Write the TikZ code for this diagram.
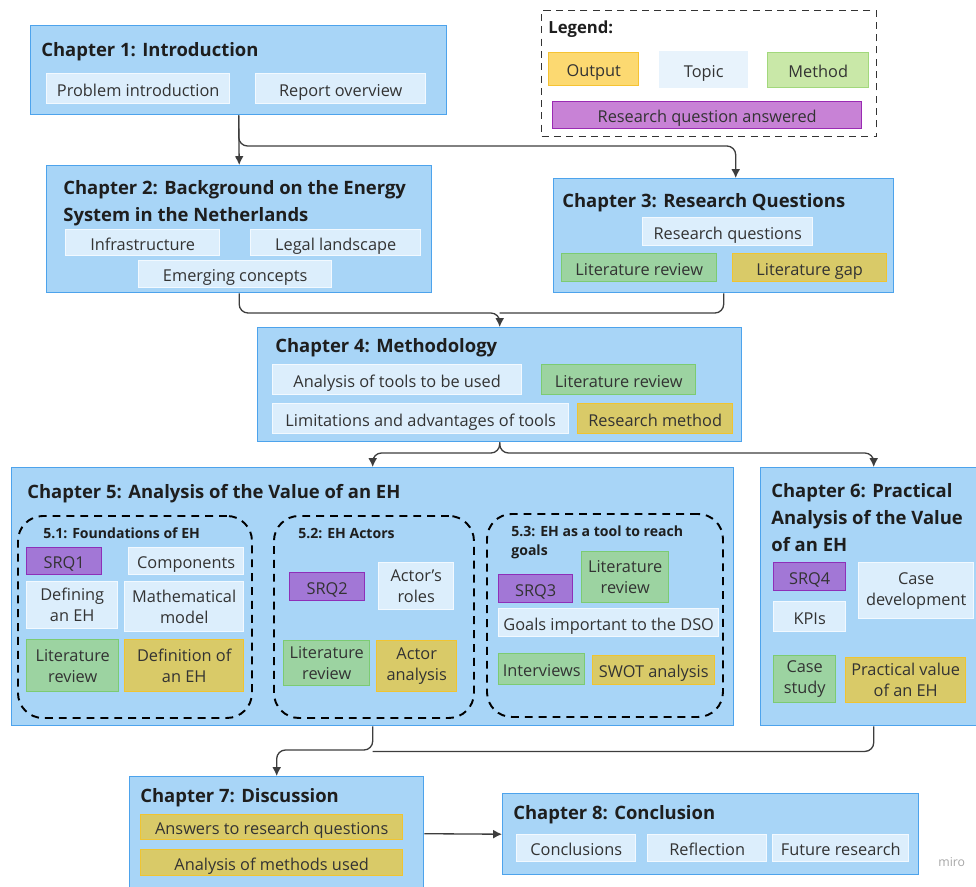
\documentclass[tikz,border=0pt]{standalone}
\usepackage{fontspec}
\setmainfont{Open Sans}
\usetikzlibrary{arrows.meta}
\definecolor{chapfill}{HTML}{A8D5F7}
\definecolor{chapline}{HTML}{4DA3EC}
\definecolor{topicfill}{HTML}{DCEEFC}
\definecolor{topicline}{HTML}{F2F9FF}
\definecolor{methfill}{HTML}{9CD3A1}
\definecolor{methline}{HTML}{7CCB72}
\definecolor{outfill}{HTML}{D9CA68}
\definecolor{outline}{HTML}{F0C431}
\definecolor{srqfill}{HTML}{A277D6}
\definecolor{srqline}{HTML}{8E2FB8}
\definecolor{legout}{HTML}{FCD971}
\definecolor{legoutline}{HTML}{F6C333}
\definecolor{legtopic}{HTML}{E8F3FC}
\definecolor{legmeth}{HTML}{C9E8A8}
\definecolor{legmethline}{HTML}{A2D87C}
\definecolor{legrq}{HTML}{C882D6}
\definecolor{legrqline}{HTML}{9A2BB3}
\definecolor{txt}{HTML}{333333}
\definecolor{ttltxt}{HTML}{1E1E1E}
\definecolor{arrcol}{HTML}{3D3D3D}
\newcommand{\px}{0.02cm}
\newcommand{\bodyfont}{\fontsize{9.3}{12}\selectfont}
\newcommand{\ttlfont}{\bfseries\fontsize{10.5}{15.3}\selectfont}
\newcommand{\grpfont}{\bfseries\fontsize{8}{10.8}\selectfont}
\tikzset{
  wh/.style 2 args={minimum width=#1*\px,minimum height=#2*\px,anchor=north west},
  chapbox/.style={draw=chapline,fill=chapfill,line width=0.8pt,inner sep=0pt},
  subbox/.style={line width=0.8pt,inner sep=0pt,align=center,font=\bodyfont,text=txt,
    text height=0.85em,text depth=0pt},
  multi/.style={text height={},text depth={}},
  topicbox/.style={subbox,draw=topicline,fill=topicfill},
  methbox/.style={subbox,draw=methline,fill=methfill},
  outbox/.style={subbox,draw=outline,fill=outfill},
  srqbox/.style={subbox,draw=srqline,fill=srqfill},
  ttl/.style={anchor=base west,inner sep=0pt,align=left,font=\ttlfont,text=ttltxt},
  grplabel/.style={anchor=base west,inner sep=0pt,align=left,font=\grpfont,text=ttltxt},
  grpbox/.style={draw=black,line width=1.1pt,dash pattern=on 4.5pt off 3.4pt,rounded corners=0.5cm,inner sep=0pt},
  conn/.style={draw=arrcol,line width=0.75pt,rounded corners=5pt},
  arr/.style={conn,-{Latex[length=5pt,width=5pt]}}
}
\begin{document}
\begin{tikzpicture}[x=0.02cm,y=-0.02cm]
\useasboundingbox (0,0) rectangle (976,886);
\clip (0,0) rectangle (976,886);

\node[draw=black!80,line width=0.7pt,dash pattern=on 4pt off 3pt,wh={335}{126}] (leg) at (541,10) {};
\node[ttl,font=\bfseries\fontsize{9.5}{12}\selectfont] (legt) at (548,33) {Legend:};
\node[subbox,draw=legoutline,fill=legout,wh={90}{33}] (lout) at (548,52) {Output};
\node[subbox,draw=legtopic,fill=legtopic,wh={88}{36}] (ltop) at (659,51) {Topic};
\node[subbox,draw=legmethline,fill=legmeth,wh={101}{35}] (lmeth) at (767,52) {Method};
\node[subbox,draw=legrqline,fill=legrq,wh={309}{27}] (lrq) at (552,101) {Research question answered};

\node[chapbox,wh={416}{89}] (ch1) at (30,25) {};
\node[ttl] (t1) at (41,56) {Chapter 1: Introduction};
\node[topicbox,wh={183}{30}] (pi) at (46,73) {Problem introduction};
\node[topicbox,wh={170}{30}] (ro) at (255,73) {Report overview};

\node[chapbox,wh={385}{127}] (ch2) at (46,165) {};
\node[ttl] (t2) at (63,221) {Chapter 2: Background on the Energy\\System in the Netherlands};
\node[topicbox,wh={154}{26}] (infra) at (65,229) {Infrastructure};
\node[topicbox,wh={170}{26}] (legal) at (250,229) {Legal landscape};
\node[topicbox,wh={193}{27}] (emc) at (138,260) {Emerging concepts};

\node[chapbox,wh={340}{114}] (ch3) at (553,178) {};
\node[ttl] (t3) at (562,207) {Chapter 3: Research Questions};
\node[topicbox,wh={170}{28}] (rq) at (642,217) {Research questions};
\node[methbox,wh={155}{28}] (lr3) at (561,253) {Literature review};
\node[outbox,wh={154}{28}] (lg) at (732,253) {Literature gap};

\node[chapbox,wh={484}{114}] (ch4) at (257,327) {};
\node[ttl] (t4) at (275,352) {Chapter 4: Methodology};
\node[topicbox,wh={249}{30}] (atu) at (272,364) {Analysis of tools to be used};
\node[methbox,wh={154}{30}] (lr4) at (541,364) {Literature review};
\node[topicbox,wh={296}{30}] (lim) at (272,403) {Limitations and advantages of tools};
\node[outbox,wh={155}{30}] (rm) at (577,403) {Research method};

\node[chapbox,wh={722}{258}] (ch5) at (11,467) {};
\node[ttl] (t5) at (27,498) {Chapter 5: Analysis of the Value of an EH};
\node[grpbox,wh={234}{202}] (g51) at (17,515) {};
\node[grplabel] (l51) at (43,538) {5.1: Foundations of EH};
\node[srqbox,wh={75}{27}] (srq1) at (26,547) {SRQ1};
\node[topicbox,wh={115}{27}] (comp) at (128,547) {Components};
\node[topicbox,multi,wh={91}{47}] (defn) at (26,581) {Defining\\an EH};
\node[topicbox,multi,wh={119}{50}] (math) at (124,581) {Mathematical\\model};
\node[methbox,multi,wh={92}{52}] (lr51) at (26,639) {Literature\\review};
\node[outbox,multi,wh={119}{52}] (defeh) at (124,639) {Definition of\\an EH};

\node[grpbox,wh={200}{202}] (g52) at (273,515) {};
\node[grplabel] (l52) at (298,538) {5.2: EH Actors};
\node[srqbox,wh={75}{28}] (srq2) at (289,572) {SRQ2};
\node[topicbox,multi,wh={75}{47}] (roles) at (378,562) {Actor's\\roles};
\node[methbox,multi,wh={86}{45}] (lr52) at (283,640) {Literature\\review};
\node[outbox,multi,wh={80}{51}] (aa) at (376,640) {Actor\\analysis};

\node[grpbox,wh={236}{203}] (g53) at (486,513) {};
\node[grplabel] (l53) at (511,555) {5.3: EH as a tool to reach\\goals};
\node[srqbox,wh={74}{28}] (srq3) at (498,574) {SRQ3};
\node[methbox,multi,wh={87}{51}] (lr53) at (581,551) {Literature\\review};
\node[topicbox,wh={220}{28}] (goals) at (498,608) {Goals important to the DSO};
\node[methbox,wh={86}{31}] (intv) at (498,653) {Interviews};
\node[outbox,wh={122}{29}] (swot) at (592,655) {SWOT analysis};

\node[chapbox,wh={226}{258}] (ch6) at (760,467) {};
\node[ttl] (t6) at (771,551) {Chapter 6: Practical\\Analysis of the Value\\of an EH};
\node[srqbox,wh={72}{28}] (srq4) at (773,562) {SRQ4};
\node[topicbox,multi,wh={115}{56}] (cdev) at (858,562) {Case\\development};
\node[topicbox,wh={72}{30}] (kpi) at (773,601) {KPIs};
\node[methbox,multi,wh={62}{47}] (cs) at (773,655) {Case\\study};
\node[outbox,multi,wh={120}{45}] (pv) at (845,657) {Practical value\\of an EH};

\node[chapbox,wh={294}{114}] (ch7) at (129,776) {};
\node[ttl] (t7) at (140,802) {Chapter 7: Discussion};
\node[outbox,wh={262}{25}] (ans) at (140,814) {Answers to research questions};
\node[outbox,wh={262}{26}] (am) at (140,849) {Analysis of methods used};

\node[chapbox,wh={416}{81}] (ch8) at (502,793) {};
\node[ttl] (t8) at (513,819) {Chapter 8: Conclusion};
\node[topicbox,wh={119}{27}] (conc) at (516,834) {Conclusions};
\node[topicbox,wh={119}{27}] (refl) at (647,834) {Reflection};
\node[topicbox,wh={136}{27}] (fres) at (772,834) {Future research};

\node[anchor=base west,inner sep=0pt,text=black!35,font=\fontsize{7}{8}\selectfont] (miro) at (938,866) {miro};

\coordinate (j3) at ([xshift=12*\px,yshift=32*\px]ch3.north);
\coordinate (j4) at ([yshift=14*\px]ch4.north);
\coordinate (j7) at ([yshift=26*\px]ch7.north);
\draw[arr] (ch1.south) -- (ch2.north);
\draw[arr] (ch1.south) |- (j3) -- ([xshift=12*\px]ch3.north);
\draw[arr] (ch2.south) |- (j4) -- (ch4.north);
\draw[conn] (ch3.south) |- (j4);
\draw[arr] (ch4.south) |- ([yshift=14*\px]ch5.north) -- (ch5.north);
\draw[arr] (ch4.south) |- ([yshift=14*\px]ch6.north) -- (ch6.north);
\draw[arr] (ch5.south) |- (j7) -- (ch7.north);
\draw[conn] (ch6.south) |- ([yshift=-25*\px]ch5.south);
\draw[arr] (ch7.east) -- (ch8.west);
\end{tikzpicture}
\end{document}
